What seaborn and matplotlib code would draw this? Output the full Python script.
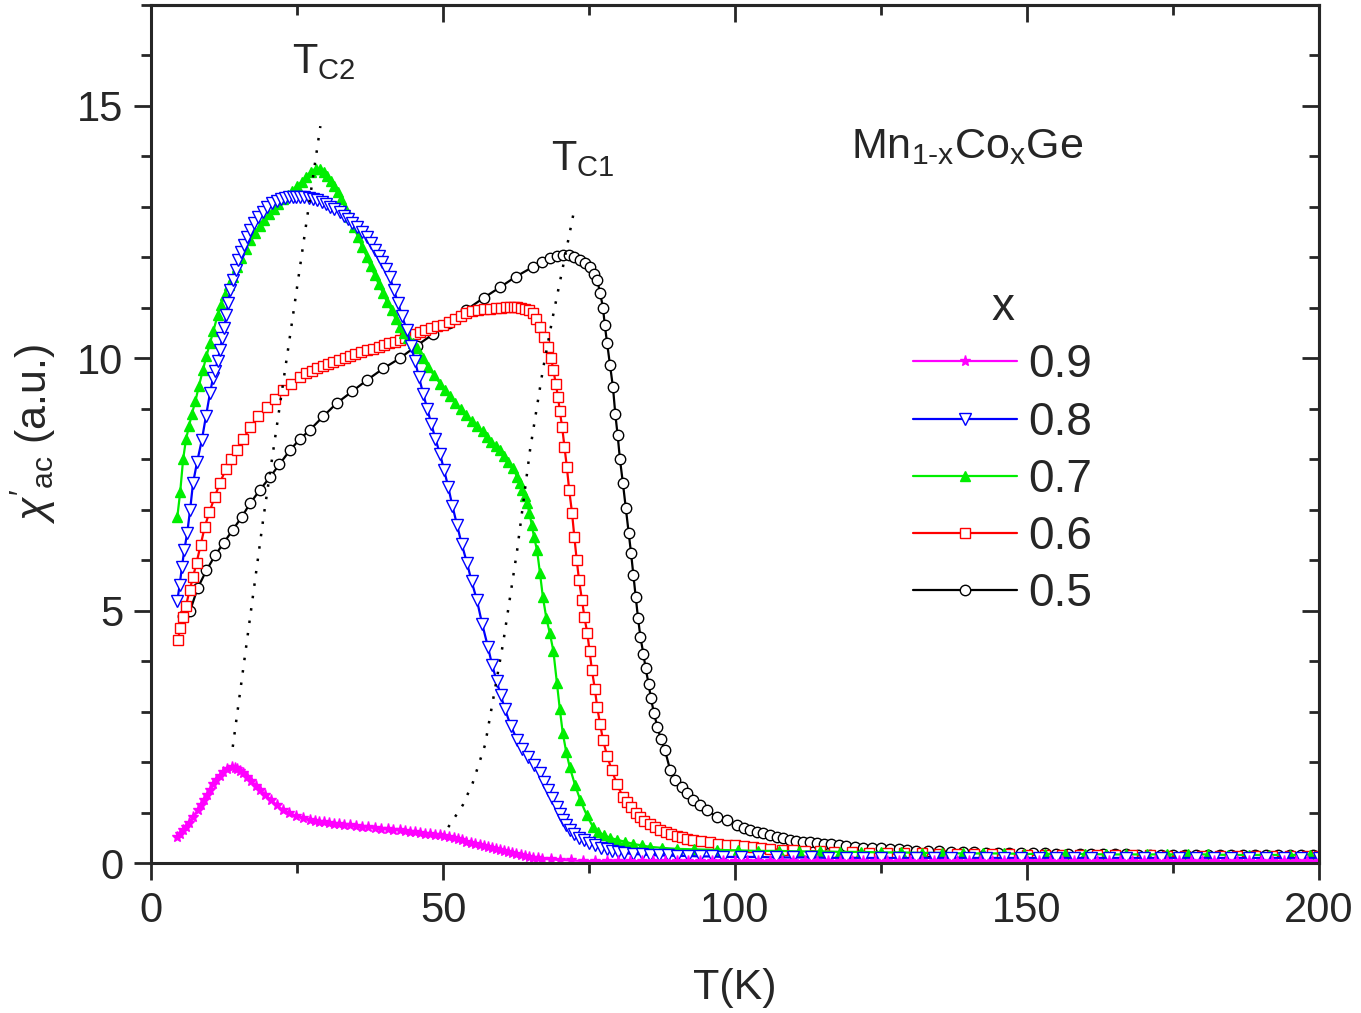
import matplotlib
matplotlib.use('Agg')
import matplotlib.pyplot as plt
import seaborn as sns
from matplotlib.ticker import MultipleLocator, NullFormatter

# --- data: (T [K], chi'_ac [a.u.]) ---
x05 = [(5.5, 4.90), (6.7, 5.00), (8.0, 5.45), (9.5, 5.80), (11.0, 6.10), (12.5, 6.35),
       (14.0, 6.60), (15.5, 6.85), (17.0, 7.13), (18.7, 7.40), (20.4, 7.65), (22.0, 7.90),
       (23.8, 8.18), (25.5, 8.40), (27.2, 8.58), (29.5, 8.85), (31.8, 9.11), (34.5, 9.35),
       (37.0, 9.57), (39.8, 9.80), (42.6, 10.00), (45.5, 10.25), (48.3, 10.48), (51.0, 10.70),
       (54.0, 10.96), (57.0, 11.20), (59.8, 11.41), (62.5, 11.62), (65.4, 11.81), (67.0, 11.90),
       (68.3, 11.99), (69.5, 12.03), (70.5, 12.05), (71.5, 12.04), (72.5, 12.00), (73.5, 11.95),
       (74.4, 11.88), (75.2, 11.80), (75.8, 11.68), (76.4, 11.55), (76.9, 11.30), (77.4, 11.00),
       (77.7, 10.66), (78.1, 10.30), (78.6, 9.87), (79.1, 9.43), (79.5, 8.90), (79.9, 8.48),
       (80.3, 8.00), (80.8, 7.53), (81.3, 7.03), (81.8, 6.54), (82.2, 6.14), (82.6, 5.70),
       (83.0, 5.27), (83.4, 4.85), (83.8, 4.48), (84.3, 4.15), (84.7, 3.86), (85.2, 3.55),
       (85.6, 3.27), (86.1, 2.98), (86.7, 2.70), (87.3, 2.45), (88.0, 2.24), (88.9, 1.84),
       (89.7, 1.64), (90.9, 1.50), (91.8, 1.38), (92.8, 1.25), (94.0, 1.15), (95.2, 1.05),
       (96.9, 0.91), (98.6, 0.85), (100.3, 0.75), (101.5, 0.70), (102.6, 0.65), (103.7, 0.62),
       (104.8, 0.60), (106.0, 0.56), (107.2, 0.52), (108.3, 0.49), (109.4, 0.46), (110.5, 0.44),
       (111.6, 0.42), (112.8, 0.41), (114.0, 0.40), (115.3, 0.38), (116.5, 0.37), (117.8, 0.35),
       (119.0, 0.34), (120.5, 0.32), (122.0, 0.30), (123.5, 0.30), (125.0, 0.29), (126.5, 0.28),
       (128.0, 0.27), (129.5, 0.26), (131.0, 0.24), (133.0, 0.24), (135.0, 0.23), (137.0, 0.22),
       (139.0, 0.22), (141.0, 0.21), (143.0, 0.20), (145.0, 0.20), (147.0, 0.20), (149.0, 0.19),
       (151.0, 0.19), (153.0, 0.19), (155.0, 0.18), (157.0, 0.18), (159.0, 0.18), (161.0, 0.17),
       (163.0, 0.17), (165.0, 0.17), (167.0, 0.17), (169.0, 0.16), (171.0, 0.16), (173.0, 0.16),
       (175.0, 0.16), (177.0, 0.16), (179.0, 0.16), (181.0, 0.15), (183.0, 0.15), (185.0, 0.15),
       (187.0, 0.15), (189.0, 0.15), (191.0, 0.15), (193.0, 0.15), (195.0, 0.15), (197.0, 0.15),
       (199.0, 0.15)]

x06 = [(4.6, 4.42), (5.0, 4.65), (5.5, 4.87), (6.0, 5.10), (6.6, 5.40), (7.2, 5.67),
       (7.8, 5.95), (8.5, 6.30), (9.2, 6.66), (10.0, 6.95), (10.9, 7.25), (11.8, 7.53),
       (12.8, 7.80), (13.7, 8.00), (14.7, 8.18), (15.8, 8.40), (17.0, 8.64), (18.4, 8.85),
       (19.9, 9.04), (21.2, 9.20), (22.6, 9.37), (24.0, 9.50), (25.5, 9.63), (26.5, 9.70),
       (27.5, 9.75), (28.5, 9.80), (29.4, 9.85), (30.3, 9.89), (31.2, 9.93), (32.2, 9.97),
       (33.2, 10.00), (34.1, 10.04), (35.0, 10.08), (36.0, 10.12), (37.0, 10.16), (38.0, 10.19),
       (39.0, 10.22), (39.9, 10.26), (40.8, 10.30), (41.7, 10.33), (42.6, 10.36), (43.5, 10.40),
       (44.3, 10.44), (45.2, 10.48), (46.0, 10.52), (47.0, 10.56), (48.0, 10.60), (49.0, 10.63),
       (50.0, 10.66), (51.0, 10.72), (52.0, 10.78), (53.0, 10.84), (54.0, 10.90), (55.0, 10.93),
       (56.0, 10.95), (57.0, 10.97), (58.0, 10.98), (59.0, 10.99), (60.0, 11.00), (60.8, 11.01),
       (61.5, 11.02), (62.1, 11.02), (62.7, 11.02), (63.4, 11.00), (64.0, 10.98), (64.7, 10.95),
       (65.4, 10.90), (66.0, 10.78), (66.6, 10.62), (67.3, 10.42), (68.0, 10.22), (68.5, 10.00),
       (68.9, 9.77), (69.3, 9.50), (69.7, 9.23), (70.0, 8.95), (70.4, 8.64), (70.8, 8.25),
       (71.2, 7.85), (71.6, 7.40), (72.1, 6.93), (72.5, 6.45), (72.9, 6.00), (73.3, 5.60),
       (73.8, 5.21), (74.2, 4.88), (74.7, 4.56), (75.1, 4.20), (75.5, 3.82), (76.0, 3.45),
       (76.4, 3.09), (76.9, 2.75), (77.4, 2.44), (78.1, 2.12), (78.9, 1.84), (79.8, 1.56),
       (80.8, 1.31), (81.5, 1.20), (82.2, 1.10), (83.0, 1.00), (83.7, 0.91), (84.5, 0.84),
       (85.4, 0.77), (86.3, 0.71), (87.2, 0.65), (88.1, 0.61), (89.0, 0.57), (90.0, 0.54),
       (90.9, 0.51), (91.8, 0.48), (92.8, 0.46), (94.2, 0.43), (95.7, 0.41), (97.1, 0.38),
       (98.6, 0.36), (100.0, 0.35), (101.5, 0.33), (103.0, 0.31), (104.5, 0.30), (106.0, 0.28),
       (108.0, 0.26), (110.0, 0.25), (112.0, 0.24), (114.5, 0.23), (117.0, 0.22), (120.0, 0.21),
       (123.0, 0.20), (126.0, 0.20), (129.0, 0.19), (132.0, 0.19), (135.0, 0.18), (138.0, 0.18),
       (141.0, 0.17), (144.0, 0.17), (147.0, 0.17), (150.0, 0.16), (153.0, 0.16), (156.0, 0.16),
       (159.0, 0.15), (162.0, 0.15), (165.0, 0.15), (168.0, 0.15), (171.0, 0.15), (174.0, 0.14),
       (177.0, 0.14), (180.0, 0.14), (183.0, 0.14), (186.0, 0.14), (189.0, 0.14), (192.0, 0.14),
       (195.0, 0.14), (198.0, 0.14), (200.0, 0.14)]

x07 = [(4.5, 6.85), (5.0, 7.35), (5.5, 8.00), (6.0, 8.40), (6.5, 8.65), (7.0, 8.90),
       (7.6, 9.15), (8.2, 9.45), (8.9, 9.77), (9.5, 10.05), (10.1, 10.30), (10.7, 10.55),
       (11.4, 10.85), (12.0, 11.05), (12.6, 11.25), (13.3, 11.45), (14.0, 11.62), (14.7, 11.80),
       (15.4, 11.98), (16.2, 12.16), (17.0, 12.34), (17.8, 12.48), (18.6, 12.62), (19.4, 12.74),
       (20.2, 12.85), (21.0, 12.95), (21.8, 13.05), (22.6, 13.15), (23.4, 13.24), (24.2, 13.32),
       (25.0, 13.42), (25.8, 13.50), (26.6, 13.60), (27.4, 13.70), (28.2, 13.76), (29.0, 13.75),
       (29.6, 13.70), (30.2, 13.62), (30.8, 13.52), (31.4, 13.42), (32.0, 13.30), (32.6, 13.15),
       (33.3, 12.98), (34.0, 12.80), (34.7, 12.60), (35.5, 12.40), (36.2, 12.20), (37.0, 12.00),
       (37.6, 11.82), (38.3, 11.65), (39.0, 11.47), (39.7, 11.30), (40.4, 11.12), (41.2, 10.95),
       (41.9, 10.78), (42.6, 10.62), (43.3, 10.50), (44.0, 10.40), (44.8, 10.30), (45.5, 10.20),
       (46.5, 10.00), (47.5, 9.82), (48.5, 9.66), (49.5, 9.50), (50.4, 9.37), (51.2, 9.25),
       (52.1, 9.12), (53.0, 9.00), (54.0, 8.88), (55.0, 8.75), (55.9, 8.65), (56.8, 8.55),
       (57.6, 8.45), (58.3, 8.35), (59.1, 8.27), (59.8, 8.18), (60.5, 8.07), (61.2, 7.95),
       (62.0, 7.82), (62.7, 7.65), (63.2, 7.52), (63.6, 7.40), (64.0, 7.27), (64.4, 7.13),
       (64.8, 6.93), (65.2, 6.70), (65.6, 6.45), (66.1, 6.20), (66.6, 5.75), (67.1, 5.27),
       (67.7, 4.85), (68.3, 4.55), (68.9, 4.20), (69.5, 3.57), (70.0, 3.05), (70.5, 2.58),
       (71.1, 2.20), (71.7, 1.90), (72.6, 1.55), (73.5, 1.25), (74.6, 0.95), (75.7, 0.71),
       (76.6, 0.62), (77.5, 0.55), (78.6, 0.50), (79.8, 0.46), (81.2, 0.42), (82.5, 0.38),
       (84.0, 0.35), (85.4, 0.32), (87.5, 0.30), (90.0, 0.28), (93.0, 0.27), (97.0, 0.26),
       (100.5, 0.25), (104.0, 0.24), (107.5, 0.24), (111.0, 0.23), (114.5, 0.23), (118.0, 0.22),
       (121.5, 0.22), (125.0, 0.21), (128.5, 0.21), (132.0, 0.20), (135.5, 0.20), (139.0, 0.19),
       (142.5, 0.19), (146.0, 0.19), (149.5, 0.18), (153.0, 0.18), (156.5, 0.18), (160.0, 0.18),
       (163.5, 0.17), (167.0, 0.17), (170.5, 0.17), (174.0, 0.17), (177.5, 0.17), (181.0, 0.17),
       (184.5, 0.16), (188.0, 0.16), (191.5, 0.16), (195.0, 0.16), (198.5, 0.16)]

x08 = [(4.5, 5.20), (4.9, 5.50), (5.3, 5.87), (5.7, 6.20), (6.2, 6.54), (6.7, 7.00),
       (7.2, 7.53), (7.9, 7.95), (8.7, 8.38), (9.4, 8.85), (10.1, 9.31), (10.6, 9.60),
       (11.0, 9.75), (11.4, 9.95), (11.8, 10.16), (12.2, 10.40), (12.5, 10.60), (12.9, 10.85),
       (13.2, 11.10), (13.6, 11.35), (14.0, 11.55), (14.5, 11.75), (14.9, 11.95), (15.4, 12.10),
       (15.9, 12.25), (16.4, 12.40), (17.0, 12.54), (17.7, 12.68), (18.4, 12.80), (19.1, 12.90),
       (19.9, 13.00), (20.7, 13.07), (21.5, 13.12), (22.3, 13.15), (23.0, 13.18), (23.6, 13.19),
       (24.3, 13.20), (24.9, 13.20), (25.5, 13.20), (26.2, 13.19), (27.0, 13.17), (27.7, 13.16),
       (28.4, 13.14), (29.2, 13.10), (30.0, 13.05), (30.6, 13.00), (31.3, 12.95), (32.4, 12.90),
       (33.0, 12.82), (33.7, 12.75), (34.5, 12.68), (35.3, 12.60), (36.2, 12.50), (37.0, 12.40),
       (37.6, 12.28), (38.3, 12.15), (39.0, 12.03), (39.6, 11.90), (40.2, 11.76), (40.9, 11.61),
       (41.6, 11.35), (42.3, 11.10), (43.0, 10.83), (43.8, 10.56), (44.5, 10.25), (45.2, 9.95),
       (45.9, 9.62), (46.6, 9.30), (47.3, 9.00), (48.0, 8.70), (48.7, 8.40), (49.5, 8.10),
       (50.2, 7.78), (50.9, 7.45), (51.6, 7.08), (52.4, 6.70), (53.2, 6.32), (54.1, 5.95),
       (54.9, 5.58), (55.8, 5.21), (56.7, 4.74), (57.7, 4.28), (58.4, 3.93), (59.2, 3.60),
       (59.9, 3.32), (60.6, 3.05), (61.6, 2.72), (62.7, 2.44), (63.6, 2.26), (64.6, 2.10),
       (65.6, 1.94), (66.6, 1.78), (67.3, 1.60), (68.0, 1.45), (68.7, 1.28), (69.5, 1.11),
       (70.0, 0.97), (70.6, 0.85), (71.1, 0.75), (71.7, 0.65), (72.5, 0.57), (73.3, 0.50),
       (74.1, 0.45), (75.0, 0.40), (76.0, 0.35), (77.0, 0.30), (78.0, 0.27), (79.0, 0.24),
       (80.0, 0.22), (81.0, 0.20), (82.5, 0.18), (84.0, 0.17), (85.5, 0.16), (87.0, 0.15),
       (88.5, 0.15), (90.0, 0.14), (92.0, 0.14), (94.0, 0.13), (96.0, 0.13), (98.0, 0.12),
       (101.0, 0.12), (104.0, 0.12), (107.0, 0.11), (110.0, 0.11), (113.0, 0.11), (116.0, 0.10),
       (119.0, 0.10), (122.0, 0.10), (125.0, 0.10), (128.0, 0.10), (131.0, 0.10), (134.0, 0.10),
       (137.0, 0.10), (140.0, 0.10), (143.0, 0.10), (146.0, 0.10), (149.0, 0.10), (152.0, 0.10),
       (155.0, 0.10), (158.0, 0.10), (161.0, 0.10), (164.0, 0.10), (167.0, 0.10), (170.0, 0.10),
       (173.0, 0.10), (176.0, 0.10), (179.0, 0.10), (182.0, 0.10), (185.0, 0.10), (188.0, 0.10),
       (191.0, 0.10), (194.0, 0.10), (197.0, 0.10), (200.0, 0.10)]

x09 = [(4.5, 0.52), (5.0, 0.58), (5.5, 0.65), (6.0, 0.72), (6.5, 0.80), (7.2, 0.91),
       (8.0, 1.05), (8.5, 1.15), (9.0, 1.25), (9.6, 1.35), (10.1, 1.45), (10.7, 1.56),
       (11.2, 1.65), (11.8, 1.73), (12.3, 1.80), (13.0, 1.87), (13.8, 1.90), (14.3, 1.89),
       (14.8, 1.86), (15.3, 1.82), (15.8, 1.78), (16.5, 1.70), (17.2, 1.62), (18.0, 1.53),
       (18.7, 1.45), (19.6, 1.35), (20.6, 1.25), (21.6, 1.14), (22.6, 1.05), (23.7, 0.99),
       (24.8, 0.94), (26.0, 0.89), (27.2, 0.85), (28.0, 0.83), (28.8, 0.82), (29.6, 0.81),
       (30.5, 0.80), (31.3, 0.78), (32.2, 0.77), (33.1, 0.76), (34.0, 0.75), (35.1, 0.73),
       (36.2, 0.72), (37.2, 0.71), (38.3, 0.70), (39.4, 0.68), (40.5, 0.67), (41.5, 0.66),
       (42.6, 0.65), (43.5, 0.63), (44.3, 0.62), (45.2, 0.61), (46.0, 0.60), (46.9, 0.58),
       (47.8, 0.57), (48.6, 0.56), (49.5, 0.55), (50.2, 0.53), (51.0, 0.51), (51.8, 0.49),
       (52.5, 0.47), (53.3, 0.45), (54.0, 0.42), (54.8, 0.40), (55.5, 0.38), (56.3, 0.36),
       (57.0, 0.34), (57.7, 0.32), (58.4, 0.30), (59.1, 0.28), (59.8, 0.26), (60.5, 0.24),
       (61.2, 0.22), (61.9, 0.20), (62.5, 0.18), (63.3, 0.16), (64.0, 0.14), (64.7, 0.12),
       (65.4, 0.10), (66.2, 0.09), (67.0, 0.08), (68.5, 0.07), (70.0, 0.06), (72.0, 0.05),
       (74.0, 0.04), (76.0, 0.04), (78.0, 0.04), (80.0, 0.04), (82.0, 0.04), (84.0, 0.04),
       (86.0, 0.04), (88.0, 0.04), (90.0, 0.04), (92.0, 0.04), (94.0, 0.04), (96.0, 0.04),
       (98.0, 0.04), (100.0, 0.04), (102.0, 0.04), (104.0, 0.04), (106.0, 0.04), (108.0, 0.04),
       (110.0, 0.04), (112.0, 0.04), (114.0, 0.04), (116.0, 0.04), (118.0, 0.04), (120.0, 0.04),
       (122.0, 0.04), (124.0, 0.04), (126.0, 0.04), (128.0, 0.04), (130.0, 0.04), (132.0, 0.04),
       (134.0, 0.04), (136.0, 0.04), (138.0, 0.04), (140.0, 0.04), (142.0, 0.04), (144.0, 0.04),
       (146.0, 0.04), (148.0, 0.04), (150.0, 0.04), (152.0, 0.04), (154.0, 0.04), (156.0, 0.04),
       (158.0, 0.04), (160.0, 0.04), (162.0, 0.04), (164.0, 0.04), (166.0, 0.04), (168.0, 0.04),
       (170.0, 0.04), (172.0, 0.04), (174.0, 0.04), (176.0, 0.04), (178.0, 0.04), (180.0, 0.04),
       (182.0, 0.04), (184.0, 0.04), (186.0, 0.04), (188.0, 0.04), (190.0, 0.04), (192.0, 0.04),
       (194.0, 0.04), (196.0, 0.04), (198.0, 0.04), (200.0, 0.04)]

# guide lines for the two transitions
tc2_line = [(14.0, 2.30), (19.2, 6.80), (24.0, 10.60), (29.0, 14.60)]
tc1_line = [(50.9, 0.71), (53.4, 1.15), (55.1, 1.59), (57.2, 2.34), (60.3, 4.36), (62.7, 6.20),
            (64.9, 8.18), (67.1, 9.77), (68.8, 10.82), (70.5, 11.79), (72.3, 12.84)]

# label, data, colour, marker, face, size  (draw order: 0.5 first, 0.9 on top)
SERIES = [
    ('0.5', x05, 'black', 'o', 'white', 7.5),
    ('0.6', x06, 'red', 's', 'white', 7.0),
    ('0.7', x07, '#00ee00', '^', '#00ee00', 7.5),
    ('0.8', x08, 'blue', 'v', 'white', 8.5),
    ('0.9', x09, '#ff00ff', '*', '#ff00ff', 8.0),
]

sns.set_style('ticks')
plt.rcParams['font.family'] = ['Liberation Sans', 'DejaVu Sans']
plt.rcParams['mathtext.fontset'] = 'custom'
plt.rcParams['mathtext.rm'] = 'Liberation Sans'
plt.rcParams['mathtext.it'] = 'Liberation Sans:italic'
plt.rcParams['mathtext.bf'] = 'Liberation Sans:bold'

fig = plt.figure(figsize=(13.61, 10.13), dpi=100)
ax = fig.add_axes([151 / 1361, 150 / 1013, 1168 / 1361, 858 / 1013])

handles = {}
for lab, pts, col, mk, face, ms in SERIES:
    T = [p[0] for p in pts]
    chi = [p[1] for p in pts]
    sns.lineplot(x=T, y=chi, ax=ax, color=col, lw=1.6, marker=mk, markersize=ms,
                 markerfacecolor=face, markeredgecolor=col, markeredgewidth=1.0,
                 estimator=None, sort=False, label=lab, legend=False)
    handles[lab] = ax.lines[-1]

for guide in (tc2_line, tc1_line):
    ax.plot([p[0] for p in guide], [p[1] for p in guide], color='black',
            lw=1.8, linestyle=(0, (1, 4)))

ax.set_xlim(0, 200)
ax.set_ylim(0, 17)

ax.xaxis.set_major_locator(MultipleLocator(50))
ax.xaxis.set_minor_locator(MultipleLocator(25))
ax.yaxis.set_major_locator(MultipleLocator(5))
ax.yaxis.set_minor_locator(MultipleLocator(1))
ax.tick_params(which='major', direction='out', length=12, width=2.0, labelsize=30, pad=8)
ax.tick_params(which='minor', direction='out', length=7, width=2.0)
for sp in ax.spines.values():
    sp.set_linewidth(2.2)

# top and right: inward ticks, no labels
top = ax.secondary_xaxis('top')
top.xaxis.set_major_locator(MultipleLocator(50))
top.xaxis.set_minor_locator(MultipleLocator(25))
top.xaxis.set_major_formatter(NullFormatter())
top.tick_params(which='major', direction='in', length=12, width=2.0)
top.tick_params(which='minor', direction='in', length=7, width=2.0)
right = ax.secondary_yaxis('right')
right.yaxis.set_major_locator(MultipleLocator(5))
right.yaxis.set_minor_locator(MultipleLocator(1))
right.yaxis.set_major_formatter(NullFormatter())
right.tick_params(which='major', direction='in', length=12, width=2.0)
right.tick_params(which='minor', direction='in', length=7, width=2.0)
for s in (top, right):
    for sp in s.spines.values():
        sp.set_linewidth(2.2)

ax.set_xlabel('T(K)', fontsize=31, labelpad=27)
ax.set_ylabel(r"$\chi'_{\mathrm{ac}}$ (a.u.)", fontsize=31)
ax.yaxis.set_label_coords(-0.080, 0.50)

ax.text(24.1, 15.65, r'T$_{\mathrm{C2}}$', fontsize=30, ha='left', va='baseline')
ax.text(68.5, 13.73, r'T$_{\mathrm{C1}}$', fontsize=30, ha='left', va='baseline')
ax.text(119.9, 13.97, r'Mn$_{\mathrm{1\text{-}x}}$Co$_{\mathrm{x}}$Ge', fontsize=31,
        ha='left', va='baseline')

order = ['0.9', '0.8', '0.7', '0.6', '0.5']
leg = ax.legend([handles[k] for k in order], order, title='x', fontsize=33,
                title_fontsize=33, frameon=False, numpoints=1, handlelength=2.27,
                handletextpad=0.25, labelspacing=0.29, borderpad=0, borderaxespad=0,
                loc='upper left', bbox_to_anchor=(913 / 1361, 1 - 286 / 1013),
                bbox_transform=fig.transFigure)

fig.savefig('out.png', dpi=100)
